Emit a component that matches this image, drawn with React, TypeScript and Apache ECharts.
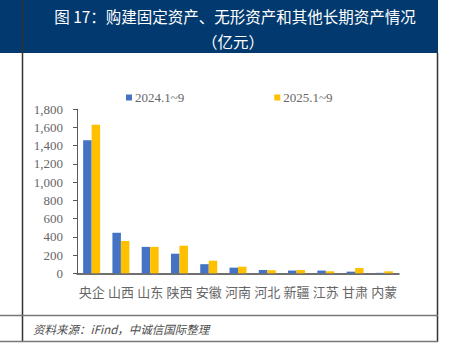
import React, { useEffect, useRef } from "react";
import * as echarts from "echarts";

const categories = ["央企", "山西", "山东", "陕西", "安徽", "河南", "河北", "新疆", "江苏", "甘肃", "内蒙"];
const series2024 = [1460, 445, 290, 215, 100, 62, 36, 30, 30, 18, 5];
const series2025 = [1630, 355, 290, 303, 138, 72, 34, 36, 22, 58, 22];
const seriesNames = ["2024.1~9", "2025.1~9"];
const titleLine1 = "图 17：购建固定资产、无形资产和其他长期资产情况";
const titleLine2 = "（亿元）";
const sourceText = "资料来源：iFind，中诚信国际整理";

export default function App() {
  const ref = useRef<HTMLDivElement>(null);
  useEffect(() => {
    document.body.style.margin = "0";
    const chart = echarts.init(ref.current!, null, { renderer: "svg" });
    const gray = "#666666";
    chart.setOption({
      animation: false,
      backgroundColor: "#ffffff",
      graphic: [
        { type: "rect", shape: { x: 0, y: 0, width: 438, height: 53 }, style: { fill: "#023a6f" }, z: 0 },
        { type: "line", shape: { x1: 22.5, y1: 0, x2: 22.5, y2: 342 }, style: { stroke: "#333333", lineWidth: 1.5 }, z: 1 },
        { type: "line", shape: { x1: 437.5, y1: 53, x2: 437.5, y2: 342 }, style: { stroke: "#333333", lineWidth: 1.5 }, z: 1 },
        { type: "line", shape: { x1: 0, y1: 315.5, x2: 438, y2: 315.5 }, style: { stroke: "#777777", lineWidth: 1.5 }, z: 1 },
        { type: "line", shape: { x1: 0, y1: 341.5, x2: 438, y2: 341.5 }, style: { stroke: "#777777", lineWidth: 1.5 }, z: 1 },
        {
          type: "text", x: 235, y: 16, z: 2,
          style: { text: titleLine1, fill: "#ffffff", font: "normal 15.5px 'Noto Sans CJK SC'", textAlign: "center", textVerticalAlign: "middle" },
        },
        {
          type: "text", x: 233, y: 41, z: 2,
          style: { text: titleLine2, fill: "#ffffff", font: "normal 15.5px 'Noto Sans CJK SC'", textAlign: "center", textVerticalAlign: "middle" },
        },
        {
          type: "text", x: 33, y: 329, z: 2,
          style: { text: sourceText, fill: "#4d4d4d", font: "italic 11.5px 'Noto Sans CJK SC'", textAlign: "left", textVerticalAlign: "middle" },
        },
      ],
      legend: {
        data: seriesNames,
        left: 121,
        top: 86,
        itemWidth: 6,
        itemHeight: 6,
        itemGap: 90,
        icon: "rect",
        textStyle: { color: gray, fontFamily: "Liberation Serif", fontSize: 13, padding: [0, 0, 0, -2] },
      },
      grid: { left: 77, right: 58, top: 109.3, bottom: 88.7, containLabel: false },
      xAxis: {
        type: "category",
        data: categories,
        axisTick: { show: false },
        axisLine: { lineStyle: { color: "#404040", width: 1.5 } },
        axisLabel: { color: gray, fontFamily: "Noto Sans CJK SC", fontSize: 13, margin: 12, interval: 0 },
      },
      yAxis: {
        type: "value",
        min: 0,
        max: 1800,
        interval: 200,
        splitLine: { show: false },
        axisLine: { show: true, lineStyle: { color: "#595959", width: 1 } },
        axisTick: { show: true, length: 4, lineStyle: { color: "#595959" } },
        axisLabel: {
          color: gray,
          fontFamily: "Liberation Serif",
          fontSize: 13,
          margin: 14,
          formatter: (v: number) => v.toLocaleString("en-US"),
        },
      },
      series: [
        { name: seriesNames[0], type: "bar", data: series2024, itemStyle: { color: "#4472C4" }, barGap: "0%", barCategoryGap: "42%" },
        { name: seriesNames[1], type: "bar", data: series2025, itemStyle: { color: "#FFC000" }, barGap: "0%", barCategoryGap: "42%" },
      ],
    });
    return () => chart.dispose();
  }, []);
  return <div ref={ref} style={{ position: "absolute", left: 0, top: 0, width: 457, height: 362 }} />;
}
